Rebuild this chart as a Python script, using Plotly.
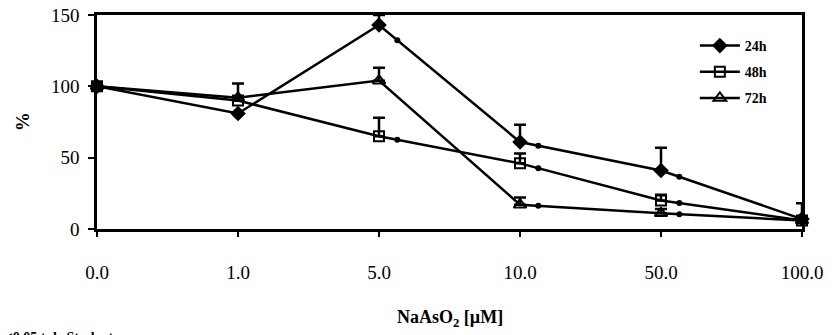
import plotly.graph_objects as go

# ---- data ----
x_labels = ["0.0", "1.0", "5.0", "10.0", "50.0", "100.0"]
h24 = [100, 81, 143, 61, 41, 7]
h24_err = [0, 0, 7, 12, 16, 0]
h48 = [100, 90, 65, 46, 20, 6]
h48_err = [0, 12, 13, 7, 4, 12]
h72 = [100, 92, 104, 17, 11, 6]
h72_err = [0, 0, 9, 5, 3, 0]
sig24 = [0, 0, 1, 1, 1, 0]
sig48 = [0, 0, 1, 1, 1, 0]
sig72 = [0, 0, 0, 1, 1, 0]
y_ticks = [0, 50, 100, 150]

xi = list(range(len(x_labels)))
FONT = "Liberation Serif"

fig = go.Figure()

series = [
    ("24h", h24, h24_err, sig24, dict(symbol="diamond", size=12, color="black")),
    ("48h", h48, h48_err, sig48, dict(symbol="square-open", size=10, color="black", line=dict(width=2, color="black"))),
    ("72h", h72, h72_err, sig72, dict(symbol="triangle-up-open", size=11, color="black", line=dict(width=2, color="black"))),
]

for name, ys, errs, sig, mk in series:
    fig.add_trace(go.Scatter(
        x=xi, y=ys, name=name, mode="lines+markers",
        line=dict(color="black", width=2.5),
        marker=mk,
        error_y=dict(type="data", array=errs, arrayminus=[0] * len(errs), symmetric=False,
                     color="black", thickness=2.5, width=6),
        cliponaxis=False, legendgroup=name,
    ))
    off = 0.13
    sx, sy = [], []
    for i, s in enumerate(sig):
        if s and i + 1 < len(ys):
            sx.append(i + off)
            sy.append(ys[i] + (ys[i + 1] - ys[i]) * off)
    fig.add_trace(go.Scatter(x=sx, y=sy, mode="markers", showlegend=False,
                             marker=dict(symbol="circle", size=6, color="black"),
                             cliponaxis=False, hoverinfo="skip"))

fig.update_layout(
    width=834, height=335,
    margin=dict(l=97, r=32, t=15, b=106, autoexpand=False),
    paper_bgcolor="white", plot_bgcolor="white",
    font=dict(family=FONT, color="black"),
    showlegend=True,
    legend=dict(x=0.848, y=0.93, xanchor="left", yanchor="top",
                bgcolor="rgba(0,0,0,0)", font=dict(size=14, family=FONT, weight="bold"),
                itemwidth=40, tracegroupgap=5),
    xaxis=dict(range=[0, 5], tickvals=xi, ticktext=x_labels, showgrid=False, zeroline=False,
               showline=True, linecolor="black", linewidth=2.5, mirror=True, automargin=False,
               ticks="outside", ticklen=5, tickcolor="black", tickwidth=1.5,
               ticklabeloverflow="allow",
               tickfont=dict(size=19, family=FONT), ticklabelstandoff=19),
    yaxis=dict(range=[0, 150], tickvals=y_ticks, showgrid=False, zeroline=False,
               showline=True, linecolor="black", linewidth=2.5, mirror=True, automargin=False,
               ticks="outside", ticklen=6, tickcolor="black", tickwidth=1.5,
               ticklabeloverflow="allow",
               tickfont=dict(size=19, family=FONT), ticklabelstandoff=5),
    annotations=[
        dict(text="<b>NaAsO<sub>2</sub> [µM]</b>", xref="paper", yref="paper", x=0.5, y=-0.416,
             xanchor="center", yanchor="middle", showarrow=False, font=dict(size=18, family=FONT)),
        dict(text="<b>%</b>", xref="paper", yref="paper", x=-0.106, y=0.5, textangle=-90,
             xanchor="center", yanchor="middle", showarrow=False, font=dict(size=19, family=FONT)),
        dict(text="<b>*p<0.05 t de Student</b>", xref="paper", yref="paper", x=-0.155, y=-0.505,
             xanchor="left", yanchor="middle", showarrow=False, font=dict(size=14, family=FONT)),
    ],
)

fig.write_html("out.html", config={"displayModeBar": False},
               post_script="document.body.style.margin='0';document.body.style.overflow='hidden';")
